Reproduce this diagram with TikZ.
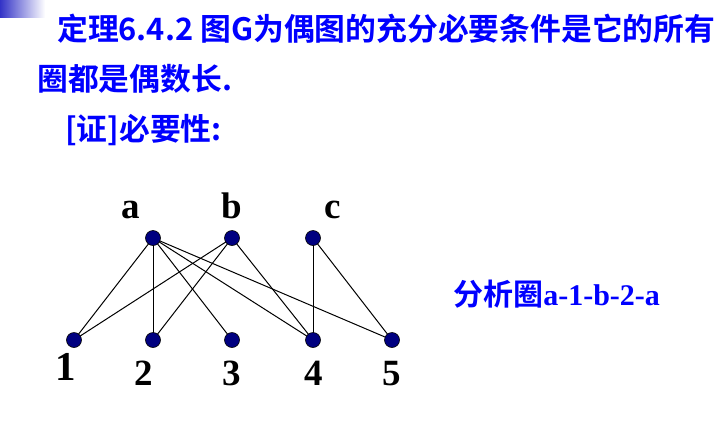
\documentclass[tikz,border=0pt]{standalone}
\usepackage{fontspec}
\setmainfont{Liberation Serif}
\newfontfamily\cjk[BoldFont={Noto Sans CJK SC Bold}]{Noto Sans CJK SC}
\usepackage{tkz-euclide}
\definecolor{TextClr}{rgb}{0,0,1}
\definecolor{NodeClr}{rgb}{0,0,0.5}
\definecolor{BarClr}{rgb}{0.2,0.2,0.78}

\begin{document}
\begin{tikzpicture}[x=1pt,y=-1pt,
  title/.style={anchor=base west,inner sep=0pt,text=TextClr,font=\cjk\bfseries\fontsize{30.8}{31}\selectfont},
  lbl/.style={anchor=base,inner sep=0pt,font=\bfseries\fontsize{37}{37}\selectfont}]
\useasboundingbox (0,0) rectangle (726,421);
\tkzSetUpLine[line width=1pt,color=black]

\shade[left color=BarClr,right color=white] (0,0) rectangle (45,17);

\node[title] (t1) at (57,40) {定理6.4.2 图G为偶图的充分必要条件是它的所有};
\node[title] (t2) at (37,90) {圈都是偶数长.};
\node[title] (t3) at (65,140) {[证]必要性:};

\tkzDefPoints{153/238/a,232/238/b,313/238/c}
\tkzDefPoints{74/340/n1,153/340/n2,232/340/n3,313/340/n4,392/340/n5}

\tkzDrawSegments(a,n1 a,n2 a,n3 a,n4 a,n5 b,n1 b,n2 b,n4 c,n4 c,n5)
\tkzDrawPoints[size=15,color=black,fill=NodeClr,line width=0.6pt](a,b,c,n1,n2,n3,n4,n5)

\node[lbl] (la) at (131,218) {a};
\node[lbl] (lb) at (232,218) {b};
\node[lbl] (lc) at (333,218) {c};
\node[lbl,font=\bfseries\fontsize{41}{41}\selectfont] (l1) at (66,380) {1};
\node[lbl] (l2) at (144,385) {2};
\node[lbl] (l3) at (232,385) {3};
\node[lbl] (l4) at (314,385) {4};
\node[lbl] (l5) at (392,385) {5};

\node[anchor=base west,inner sep=0pt,text=TextClr,font=\bfseries\fontsize{30}{30}\selectfont]
  (cyc) at (453,305) {{\cjk 分析圈}a-1-b-2-a};
\end{tikzpicture}
\end{document}
